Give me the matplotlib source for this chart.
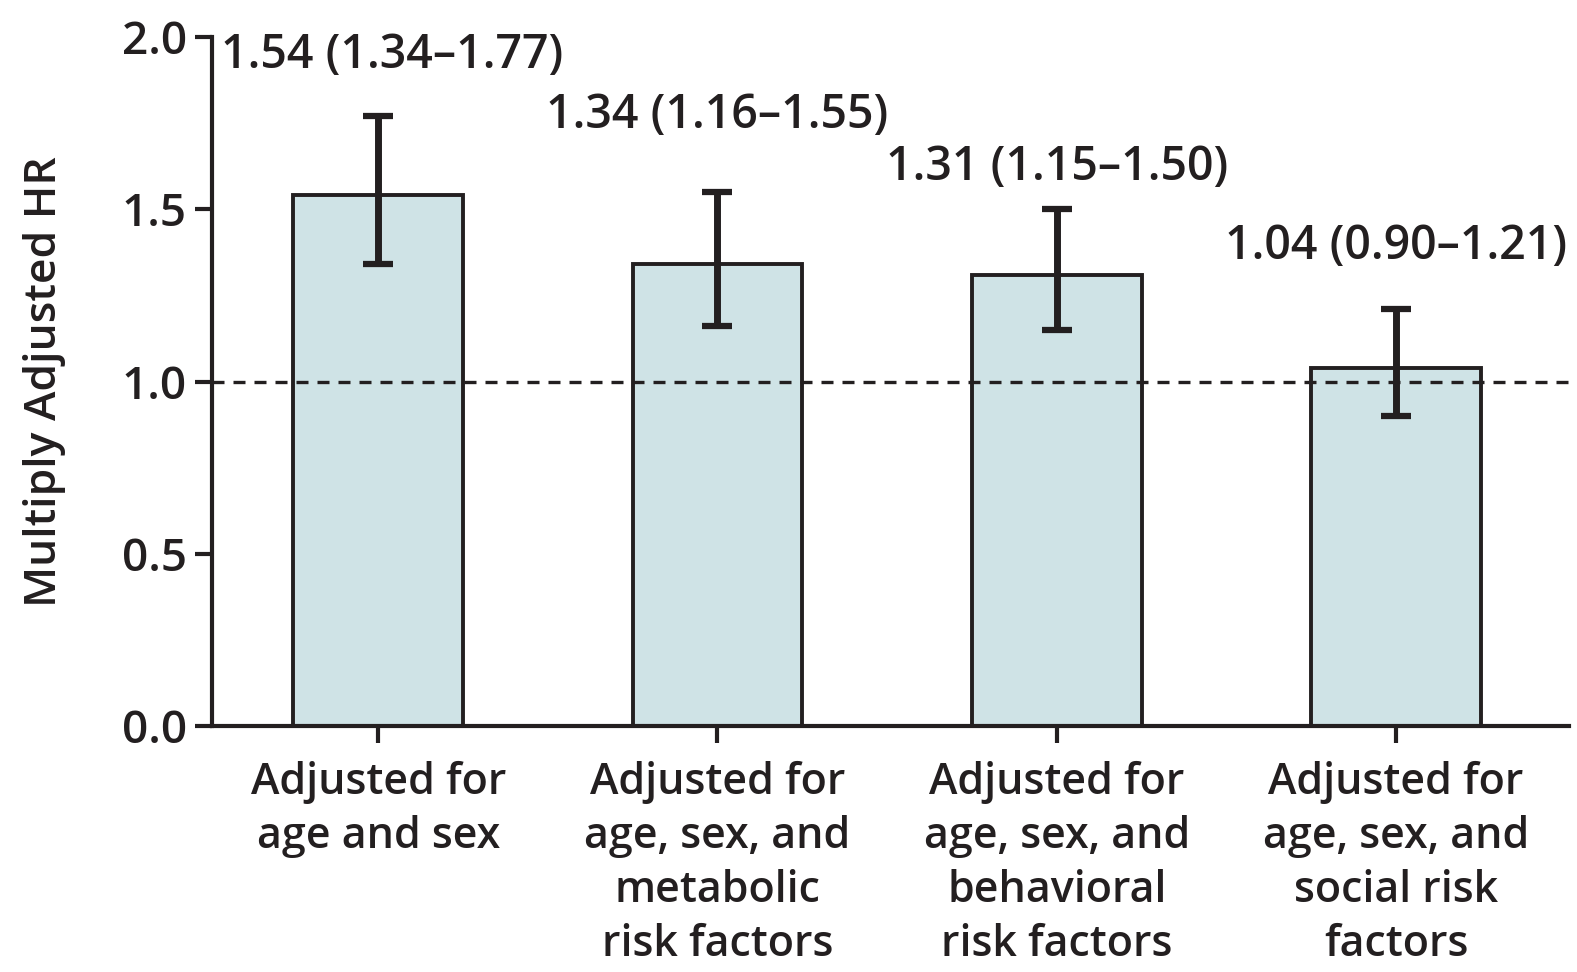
import numpy as np
import matplotlib
matplotlib.use("Agg")
import matplotlib.pyplot as plt

plt.rcParams['font.family'] = ['Open Sans', 'DejaVu Sans']
plt.rcParams['font.weight'] = 'semibold'

ink = '#231F20'
fill = '#CFE3E6'

categories = ['Adjusted for\nage and sex',
              'Adjusted for\nage, sex, and\nmetabolic\nrisk factors',
              'Adjusted for\nage, sex, and\nbehavioral\nrisk factors',
              'Adjusted for\nage, sex, and\nsocial risk\nfactors']
hr = np.array([1.54, 1.34, 1.31, 1.04])
ci_low = np.array([1.34, 1.16, 1.15, 0.90])
ci_high = np.array([1.77, 1.55, 1.50, 1.21])
yticks = [0.0, 0.5, 1.0, 1.5, 2.0]

# where the value labels sit (layout only)
label_y = [1.947, 1.772, 1.62, 1.393]
label_dx = [0.04, 0, 0, 0]

fig = plt.figure(figsize=(15.77, 9.72), dpi=100)
ax = fig.add_axes([0.1344, 0.2531, 0.8606, 0.7088])

x = np.arange(len(hr))
ax.bar(x, hr, width=0.5, color=fill, edgecolor=ink, linewidth=2.8, zorder=2)
ax.axhline(1.0, color=ink, linewidth=2.4, linestyle=(0, (3.6, 2.7)), zorder=3)
ax.errorbar(x, hr, yerr=[hr - ci_low, ci_high - hr], fmt='none', ecolor=ink,
            elinewidth=5, capsize=11, capthick=4.5, zorder=4)

for i in range(len(hr)):
    ax.text(x[i] + label_dx[i], label_y[i],
            f'{hr[i]:.2f} ({ci_low[i]:.2f}\u2013{ci_high[i]:.2f})',
            ha='center', va='center', fontsize=33.5, color=ink)

ax.set_xlim(-0.49, 3.51)
ax.set_ylim(0, 2.0)
ax.set_yticks(yticks)
ax.set_yticklabels([f'{v:.1f}' for v in yticks])
ax.set_xticks(x)
ax.set_xticklabels(categories, linespacing=1.34)

for s in ['top', 'right']:
    ax.spines[s].set_visible(False)
for s in ['left', 'bottom']:
    ax.spines[s].set_linewidth(3)
    ax.spines[s].set_color(ink)

ax.tick_params(axis='both', direction='out', length=12, width=3, color=ink,
               labelsize=33, labelcolor=ink)
ax.tick_params(axis='x', labelsize=31, pad=13)
ax.tick_params(axis='y', pad=6)

ax.set_ylabel('Multiply Adjusted HR', fontsize=32, fontweight='semibold',
              color=ink, labelpad=40)

fig.savefig('out.png', dpi=100)
